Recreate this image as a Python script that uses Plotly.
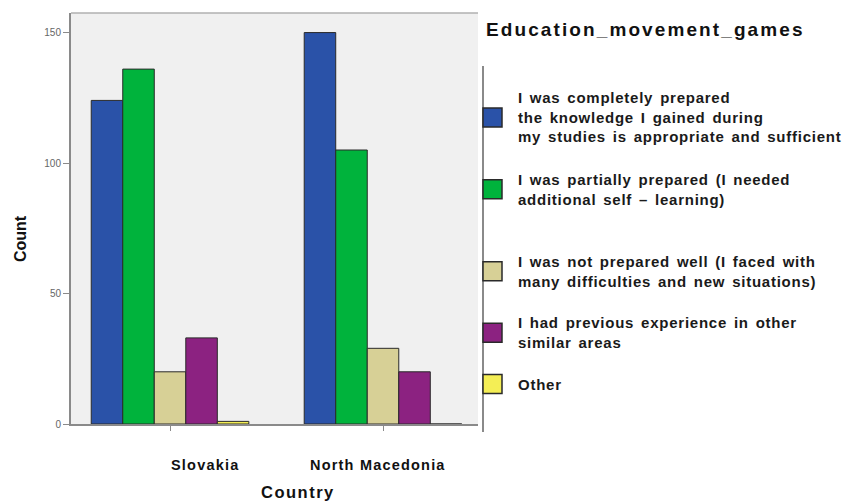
import plotly.graph_objects as go

# Survey counts per country and answer
countries = ["Slovakia", "North Macedonia"]
answers = [
    "I was completely prepared<br>the knowledge I gained during<br>my studies is appropriate and sufficient",
    "I was partially prepared (I needed<br>additional self – learning)",
    "I was not prepared well (I faced with<br>many difficulties and new situations)",
    "I had previous experience in other<br>similar areas",
    "Other",
]
completely_prepared = [124, 150]
partially_prepared = [136, 105]
not_prepared_well = [20, 29]
previous_experience = [33, 20]
other = [1, 0]
y_ticks = [0, 50, 100, 150]

series = [completely_prepared, partially_prepared, not_prepared_well, previous_experience, other]
colors = ["#2A52A8", "#00B33C", "#D7D096", "#8C2281", "#F4EE55"]

W, H = 842, 502
ML, MR, MT, MB = 71, 364, 13, 78
PW, PH = W - ML - MR, H - MT - MB


def px_x(p):
    return (p - ML) / PW


def px_y(p):
    return 1 - (p - MT) / PH


def spaced_bold(text, spacing, words=0):
    """Bold text with extra letter/word spacing, line by line."""
    style = f"letter-spacing:{spacing}px;word-spacing:{words}px"
    return "<br>".join(f"<b><span style='{style}'>{ln}</span></b>" for ln in text.split("<br>"))


fig = go.Figure()
for name, vals, col in zip(answers, series, colors):
    fig.add_trace(go.Bar(
        x=countries, y=vals, name=name,
        marker=dict(color=col, line=dict(color="#2a2a2a", width=1)),
        showlegend=False,
    ))

font_family = "Liberation Sans, Arial, sans-serif"

shapes = [
    # top frame line
    dict(type="line", xref="paper", yref="paper", x0=0, x1=1, y0=1, y1=1,
         line=dict(color="#b0b0b0", width=1.5)),
    # legend divider
    dict(type="line", xref="paper", yref="paper", x0=px_x(483), x1=px_x(483),
         y0=px_y(66), y1=px_y(432), line=dict(color="#8a8a8a", width=2)),
]

annotations = [
    dict(text=spaced_bold("Education_movement_games", 2.1), xref="paper", yref="paper",
         x=px_x(484), y=px_y(30), xanchor="left", yanchor="middle", showarrow=False,
         font=dict(size=19, color="#111", family=font_family)),
    dict(text="<b>Count</b>", xref="paper", yref="paper", x=px_x(20), y=px_y(238),
         textangle=-90, xanchor="center", yanchor="middle", showarrow=False,
         font=dict(size=16, color="#111", family=font_family)),
    dict(text=spaced_bold("Country", 1.5), xref="paper", yref="paper", x=px_x(298), y=px_y(492),
         xanchor="center", yanchor="middle", showarrow=False,
         font=dict(size=16.5, color="#111", family=font_family)),
    dict(text=spaced_bold("Slovakia", 1.2), xref="paper", yref="paper", x=px_x(205), y=px_y(465),
         xanchor="center", yanchor="middle", showarrow=False,
         font=dict(size=14.5, color="#111", family=font_family)),
    dict(text=spaced_bold("North Macedonia", 1.2), xref="paper", yref="paper", x=px_x(378), y=px_y(465),
         xanchor="center", yanchor="middle", showarrow=False,
         font=dict(size=14.5, color="#111", family=font_family)),
]

# Legend: swatches with wrapped labels, one blank line between entries
line_h = 20.5
first_line = 97
gaps_after = [1, 2, 1, 1, 0]
cur = first_line
for name, col, gap in zip(answers, colors, gaps_after):
    n = name.count("<br>") + 1
    center = cur + (n - 1) * line_h / 2
    shapes.append(dict(type="rect", xref="paper", yref="paper",
                       x0=px_x(483), x1=px_x(502), y0=px_y(center + 9.5), y1=px_y(center - 9.5),
                       fillcolor=col, line=dict(color="#2a2a2a", width=1.5)))
    annotations.append(dict(text=spaced_bold(name, 0.75, 2),
                            xref="paper", yref="paper", x=px_x(516), y=px_y(center),
                            xanchor="left", yanchor="middle", align="left", showarrow=False,
                            font=dict(size=15, color="#1a1a1a", family=font_family)))
    cur += (n + gap) * line_h

fig.update_layout(
    width=W, height=H,
    margin=dict(l=ML, r=MR, t=MT, b=MB),
    paper_bgcolor="white",
    plot_bgcolor="#F0F0F0",
    barmode="group",
    bargap=0.26,
    bargroupgap=0,
    shapes=shapes,
    annotations=annotations,
    xaxis=dict(
        type="category", range=[-0.465, 1.446], showgrid=False, zeroline=False,
        showline=True, linecolor="#8a8a8a", linewidth=2,
        ticks="outside", ticklen=5, tickcolor="#8a8a8a", showticklabels=False,
    ),
    yaxis=dict(
        range=[0, 157.5], tickvals=y_ticks, showgrid=False, zeroline=False,
        showline=True, linecolor="#8a8a8a", linewidth=2,
        ticks="outside", ticklen=6, tickcolor="#8a8a8a",
        tickfont=dict(size=10, color="#666", family=font_family),
    ),
)

fig.write_html("out.html")
